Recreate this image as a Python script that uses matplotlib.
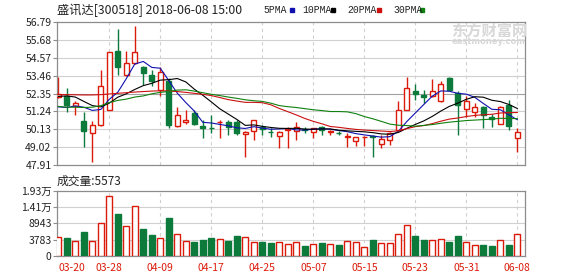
import numpy as np
import matplotlib
matplotlib.use("Agg")
import matplotlib.pyplot as plt
from matplotlib.patches import Rectangle

plt.rcParams['font.family'] = ['Noto Sans CJK SC', 'DejaVu Sans']

# ---- data (300518, daily, 2018-03-20 .. 2018-06-08) ----
dates = ["03-20", "03-21", "03-22", "03-23", "03-26", "03-27", "03-28", "03-29", "03-30",
         "04-02", "04-03", "04-04", "04-09", "04-10", "04-11", "04-12", "04-13", "04-16",
         "04-17", "04-18", "04-19", "04-20", "04-23", "04-24", "04-25", "04-26", "04-27",
         "05-02", "05-03", "05-04", "05-07", "05-08", "05-09", "05-10", "05-11", "05-14",
         "05-15", "05-16", "05-17", "05-18", "05-21", "05-22", "05-23", "05-24", "05-25",
         "05-28", "05-29", "05-30", "05-31", "06-01", "06-04", "06-05", "06-06", "06-07",
         "06-08"]

opens = [52.15, 52.17, 51.60, 50.65, 49.88, 50.40, 51.34, 54.97, 53.52, 54.25,
         54.00, 53.52, 52.55, 53.10, 50.34, 50.55, 51.13, 50.34, 50.22, 50.55,
         50.61, 50.55, 49.84, 50.03, 50.30, 49.96, 49.68, 50.10, 50.05, 50.12,
         49.93, 50.26, 49.97, 49.90, 49.64, 49.43, 49.62, 49.70, 49.22, 49.47,
         50.09, 51.34, 52.48, 52.27, 52.21, 51.86, 53.31, 52.38, 51.38, 51.23,
         51.50, 50.92, 50.47, 51.65, 49.58]
highs = [53.35, 52.70, 51.86, 51.20, 50.65, 53.83, 54.95, 56.37, 55.00, 56.57,
         54.05, 53.83, 54.00, 53.30, 51.50, 51.35, 51.34, 50.72, 51.00, 50.72,
         50.72, 50.70, 50.00, 50.72, 50.40, 50.20, 50.00, 50.30, 50.60, 50.30,
         50.22, 50.32, 50.10, 50.05, 49.88, 49.65, 49.70, 49.75, 49.78, 49.95,
         51.86, 53.38, 52.96, 52.54, 53.25, 53.15, 53.35, 52.48, 52.17, 51.75,
         51.60, 51.09, 51.60, 51.96, 50.20]
lows = [52.05, 51.20, 51.03, 49.05, 48.10, 50.35, 51.30, 53.52, 53.45, 54.20,
        52.90, 52.79, 52.20, 50.20, 50.30, 50.45, 50.40, 49.60, 49.90, 49.57,
        49.78, 49.75, 48.43, 49.47, 49.78, 49.64, 48.97, 48.95, 49.47, 49.90,
        49.60, 49.78, 49.80, 49.75, 49.00, 49.07, 49.10, 48.43, 48.95, 49.15,
        50.00, 51.30, 51.96, 51.79, 52.15, 51.80, 52.55, 49.78, 50.92, 50.92,
        50.20, 50.30, 50.45, 50.09, 48.74]
closes = [52.30, 51.65, 51.75, 50.05, 50.38, 52.83, 54.93, 53.97, 54.25, 54.93,
          53.62, 53.10, 53.70, 50.40, 51.03, 50.72, 50.46, 50.20, 50.18, 50.60,
          50.26, 49.88, 49.99, 50.72, 50.13, 49.93, 49.97, 50.15, 50.26, 50.08,
          50.20, 50.09, 50.00, 49.87, 49.72, 49.64, 49.66, 49.66, 49.51, 49.88,
          51.30, 52.69, 52.33, 52.13, 52.48, 52.94, 52.58, 51.65, 51.90, 51.50,
          51.03, 50.76, 51.50, 50.34, 49.95]
volumes = [4695, 4376, 3321, 6293, 3321, 8978, 17703, 11950, 8115, 14507,
           7060, 5239, 4376, 10768, 5558, 3321, 3097, 3641, 4376, 3960,
           3321, 5015, 4600, 3097, 3097, 2778, 3097, 2362, 3097, 1819,
           2266, 2682, 2362, 2043, 3321, 3097, 1499, 3641, 2586, 2778,
           5558, 8435, 4919, 3641, 3641, 3960, 3097, 4919, 3097, 2043,
           2043, 1819, 3641, 2043, 5573]

ma5 = [51.52, 51.48, 51.58, 51.50, 51.30, 51.36, 51.99, 52.43, 53.27, 54.18,
       54.34, 53.97, 53.92, 53.15, 52.37, 51.79, 51.26, 50.56, 50.52, 50.43,
       50.34, 50.22, 50.18, 50.29, 50.20, 50.13, 50.15, 50.18, 50.09, 50.08,
       50.13, 50.16, 50.13, 50.05, 49.98, 49.86, 49.78, 49.71, 49.64, 49.67,
       50.00, 50.61, 51.14, 51.67, 52.19, 52.51, 52.49, 52.36, 52.31, 52.11,
       51.73, 51.37, 51.34, 51.03, 50.72]
ma10 = [52.17, 52.20, 52.13, 51.86, 51.60, 51.52, 51.75, 52.12, 52.33, 52.60,
        52.84, 52.98, 53.18, 53.21, 53.28, 53.07, 52.62, 52.24, 51.83, 51.40,
        51.07, 50.74, 50.37, 50.40, 50.31, 50.24, 50.19, 50.18, 50.19, 50.14,
        50.13, 50.15, 50.15, 50.07, 50.03, 50.00, 49.97, 49.92, 49.84, 49.82,
        49.93, 50.19, 50.43, 50.65, 50.93, 51.26, 51.55, 51.75, 51.99, 52.15,
        52.12, 51.93, 51.85, 51.67, 51.42]
ma20 = [52.28, 52.28, 52.27, 52.26, 52.26, 52.28, 52.32, 52.36, 52.40, 52.44,
        52.47, 52.50, 52.52, 52.50, 52.47, 52.42, 52.36, 52.30, 52.22, 52.10,
        51.97, 51.88, 51.80, 51.80, 51.78, 51.65, 51.42, 51.22, 51.02, 50.80,
        50.62, 50.47, 50.30, 50.25, 50.18, 50.12, 50.08, 50.05, 50.02, 49.99,
        50.03, 50.17, 50.29, 50.36, 50.48, 50.63, 50.76, 50.83, 50.92, 50.99,
        51.03, 51.06, 51.14, 51.16, 51.17]
ma30 = [51.55, 51.50, 51.50, 51.48, 51.50, 51.59, 51.79, 51.92, 52.00, 52.13,
        52.20, 52.33, 52.42, 52.48, 52.56, 52.58, 52.50, 52.40, 52.30, 52.22,
        52.13, 52.05, 51.96, 51.90, 51.86, 51.75, 51.60, 51.53, 51.48, 51.41,
        51.34, 51.29, 51.23, 51.23, 51.21, 51.10, 50.92, 50.78, 50.62, 50.45,
        50.38, 50.36, 50.32, 50.37, 50.42, 50.50, 50.57, 50.62, 50.67, 50.70,
        50.73, 50.76, 50.81, 50.80, 50.79]

price_ticks = [56.79, 55.68, 54.57, 53.46, 52.35, 51.24, 50.13, 49.02, 47.91]
vol_ticks = [-1377, 3783, 8943, 14100, 19300]
vol_labels = ["0", "3783", "8943", "1.41万", "1.93万"]
label_every = 6

RED = "#dc1a0a"
GREEN = "#0b7a3b"
GRID = "#d0d0d0"
FRAME = "#8c8c8c"
MA_COLORS = ["#1010b0", "black", "#cc1010", "#108010"]

opens, highs, lows, closes, volumes = map(np.array, (opens, highs, lows, closes, volumes))
x = np.arange(len(dates))
up = closes >= opens
edge = np.where(up, RED, GREEN)
face = np.where(up, "white", GREEN)

W, H = 578, 276
fig = plt.figure(figsize=(W / 100, H / 100), dpi=100)
ax = fig.add_axes([57 / W, 1 - 165 / H, 468 / W, 143 / H])
axv = fig.add_axes([57 / W, 1 - 255.7 / H, 468 / W, 64.7 / H])

xticks = x[::label_every]
for a in (ax, axv):
    a.set_xlim(-0.15, 54.9)
    for s in a.spines.values():
        s.set_color(FRAME)
        s.set_linewidth(0.9)
    for t in xticks[1:]:
        a.axvline(t, color=GRID, linestyle=(0, (3, 3)), linewidth=0.8, zorder=0)

# price panel
ax.set_ylim(price_ticks[-1], price_ticks[0])
ax.set_yticks(price_ticks)
for p in price_ticks[1:-1]:
    ax.axhline(p, color="#a0a0a0" if p == 52.35 else GRID, linewidth=0.8, zorder=0)
ax.vlines(x, lows, highs, colors=edge, linewidth=1, zorder=2)
body = np.maximum(np.abs(closes - opens), 0.04)
ax.bar(x, body, bottom=np.minimum(opens, closes), width=0.62, color=face,
       edgecolor=edge, linewidth=1, zorder=3)
for ma, c in zip((ma5, ma10, ma20, ma30), MA_COLORS):
    ax.plot(x, ma, color=c, linewidth=0.8, zorder=4)
ax.set_xticks([])
ax.tick_params(axis="y", length=3, color=FRAME, labelsize=7.5, labelcolor="#222222", pad=1)

# volume panel
axv.set_ylim(vol_ticks[0], vol_ticks[-1])
axv.set_yticks(vol_ticks)
axv.set_yticklabels(vol_labels)
for v in vol_ticks[1:-1]:
    axv.axhline(v, color=GRID, linewidth=0.8, zorder=0)
axv.bar(x, volumes - vol_ticks[0], bottom=vol_ticks[0], width=0.68, color=face,
        edgecolor=edge, linewidth=1, zorder=3)
axv.set_xticks(xticks)
axv.set_xticklabels([dates[i] for i in xticks])
axv.get_xticklabels()[0].set_horizontalalignment("left")
axv.tick_params(axis="x", length=0, labelsize=7.5, labelcolor=RED, pad=5)
axv.tick_params(axis="y", length=3, color=FRAME, labelsize=7.5, labelcolor="#222222", pad=1)

# header texts
fig.text(57 / W, 1 - 10 / H, "盛讯达[300518] 2018-06-08 15:00", fontsize=8.8,
         va="center", ha="left", color="#222222")
legend = [("5PMA", 263, 290), ("10PMA", 302, 331), ("20PMA", 347, 377), ("30PMA", 393, 420)]
for (name, tx, sx), c in zip(legend, MA_COLORS):
    fig.text(tx / W, 1 - 10 / H, name, fontsize=7, va="center", ha="left",
             color="#222222", family="Liberation Mono")
    fig.patches.append(Rectangle((sx / W, 1 - 12 / H), 4 / W, 4 / H,
                                 transform=fig.transFigure, color=c))
fig.text(57 / W, 1 - 181 / H, "成交量:5573", fontsize=8.5, va="center", ha="left",
         color="#222222")

# watermark
fig.text(489 / W, 1 - 31 / H, "东方财富网", fontsize=11, fontweight="bold",
         va="center", ha="center", color="#d8d8d8")
fig.text(489 / W, 1 - 42 / H, "eastmoney.com", fontsize=6, fontweight="bold",
         va="center", ha="center", color="#d8d8d8", family="DejaVu Sans")

fig.savefig("out.png", dpi=100)
